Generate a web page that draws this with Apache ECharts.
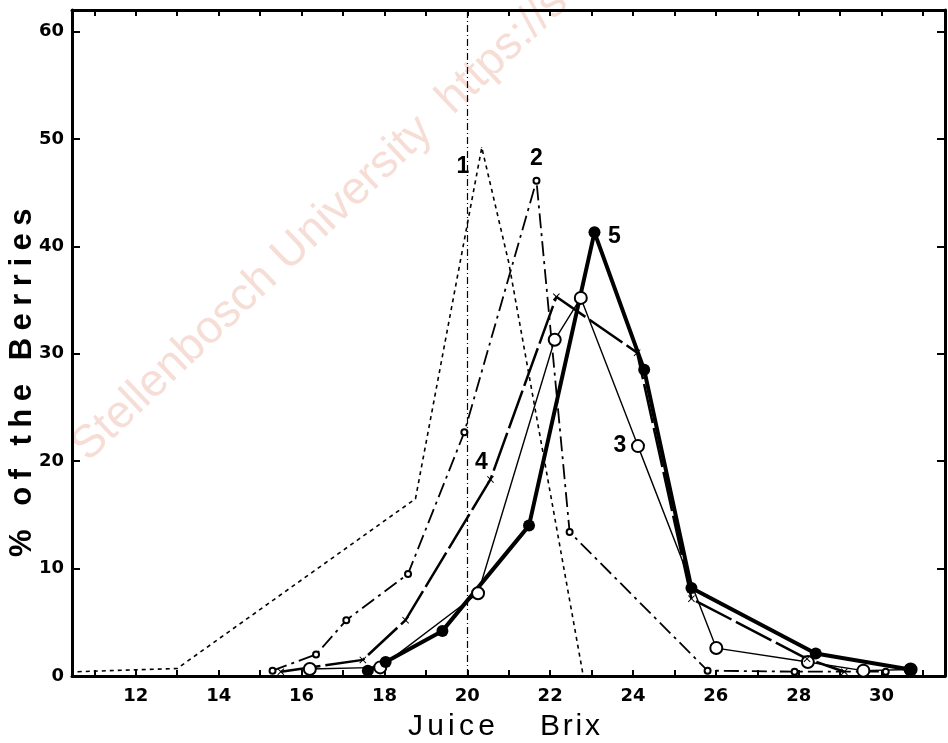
<!DOCTYPE html>
<html><head><meta charset="utf-8">
<script src="https://cdn.jsdelivr.net/npm/echarts@6/dist/echarts.min.js"></script>
<style>html,body{margin:0;padding:0;background:#fff}#c{width:948px;height:743px}</style>
</head><body><div id="c"></div>
<script>
// ---- data ----
const s1X = [10.6, 13.0, 18.75, 20.35, 21.0, 22.8];
const s1Y = [0.4, 0.7, 16.5, 49.2, 38.5, 0.0];
const s2X = [15.3, 16.35, 17.08, 18.57, 19.93, 21.67, 22.47, 25.8, 27.9, 30.1];
const s2Y = [0.5, 2.0, 5.2, 9.5, 22.7, 46.1, 13.4, 0.5, 0.4, 0.4];
const s3X = [16.2, 17.9, 20.26, 22.11, 22.74, 24.12, 26.01, 28.22, 29.56, 30.7];
const s3Y = [0.65, 0.8, 7.7, 31.3, 35.2, 21.4, 2.6, 1.3, 0.5, 0.6];
const s4X = [15.5, 17.48, 18.51, 20.56, 22.15, 24.1, 25.41, 28.2, 29.1];
const s4Y = [0.4, 1.5, 5.2, 18.3, 35.3, 30.1, 7.2, 1.6, 0.4];
const s5X = [17.6, 18.03, 19.4, 21.49, 23.07, 24.27, 25.41, 28.41, 30.69];
const s5Y = [0.5, 1.3, 4.2, 14.0, 41.3, 28.5, 8.2, 2.1, 0.6];
const curveNames = ['1', '2', '3', '4', '5'];
const refLineX = 20;
const xLabelValues = [12, 14, 16, 18, 20, 22, 24, 26, 28, 30];
const xTickValues = [11, 12, 13, 14, 15, 16, 17, 18, 19, 20, 21, 22, 23, 24, 25, 26, 27, 28, 29, 30, 31];
const yLabelValues = [0, 10, 20, 30, 40, 50, 60];
const xTitleWords = ['Juice', 'Brix'];
const yTitle = '% of the Berries';
const watermark = 'Stellenbosch University  https://scholar.sun.ac.za';

// ---- helpers ----
const LBL_FONT = '"Liberation Sans", Arial, sans-serif';
function pts(xs, ys) { return xs.map((x, i) => [x, ys[i]]); }
function labelAt(data, idx, text, offset) {
  data[idx] = { value: data[idx], label: { show: true, formatter: text, position: 'inside', offset: offset,
    fontSize: 23, fontWeight: 'bold', color: '#000', fontFamily: LBL_FONT } };
  return data;
}
const mctx = document.createElement('canvas').getContext('2d');
function spaced(str, font, spacing, x0, y0, rotation, vAlign) {
  mctx.font = font;
  const children = [];
  let cx = 0;
  for (const ch of str) {
    const w = mctx.measureText(ch).width;
    if (ch !== ' ') children.push({ type: 'text', x: cx, y: 0, style: { text: ch, font: font, fill: '#000', textAlign: 'left', textVerticalAlign: vAlign } });
    cx += w + spacing;
  }
  return { type: 'group', x: x0, y: y0, rotation: rotation || 0, children: children, silent: true };
}

const xSym = 'path://M0,1L1,0L5,4L9,0L10,1L6,5L10,9L9,10L5,6L1,10L0,9L4,5Z';

const d1 = labelAt(pts(s1X, s1Y), 3, curveNames[0], [-19, 19]);
const d2 = labelAt(pts(s2X, s2Y), 5, curveNames[1], [0, -22]);
const d3 = labelAt(pts(s3X, s3Y), 5, curveNames[2], [-18, 0]);
const d4 = labelAt(pts(s4X, s4Y), 3, curveNames[3], [-9, -17]);
const d5 = labelAt(pts(s5X, s5Y), 4, curveNames[4], [20, 4]);

const axisLine = { show: true, onZero: false, lineStyle: { color: '#000', width: 3 } };
const tickFont = { fontFamily: '"DejaVu Sans", sans-serif', fontWeight: 'bold', fontSize: 18, color: '#000' };

const chart = echarts.init(document.getElementById('c'), null, { renderer: 'canvas' });
chart.setOption({
  animation: false,
  backgroundColor: '#fff',
  grid: { left: 72, right: 3, top: 10, bottom: 67 },
  xAxis: [
    { type: 'value', position: 'bottom', min: 10.46, max: 31.53,
      axisLine: axisLine, splitLine: { show: false },
      axisTick: { show: true, inside: true, length: 6, lineStyle: { color: '#000', width: 2 }, customValues: xTickValues },
      axisLabel: Object.assign({ show: true, margin: 11, customValues: xLabelValues }, tickFont) },
    { type: 'value', position: 'top', min: 10.46, max: 31.53,
      axisLine: axisLine, splitLine: { show: false },
      axisTick: { show: true, inside: true, length: 6, lineStyle: { color: '#000', width: 2 }, customValues: xTickValues },
      axisLabel: { show: false } }
  ],
  yAxis: [
    { type: 'value', position: 'left', min: 0, max: 62, interval: 10,
      axisLine: axisLine, splitLine: { show: false },
      axisTick: { show: true, inside: true, length: 8, lineStyle: { color: '#000', width: 2 }, customValues: yLabelValues },
      axisLabel: Object.assign({ show: true, margin: 8, customValues: yLabelValues }, tickFont) },
    { type: 'value', position: 'right', min: 0, max: 62, interval: 10,
      axisLine: axisLine, splitLine: { show: false },
      axisTick: { show: true, inside: true, length: 8, lineStyle: { color: '#000', width: 2 }, customValues: yLabelValues },
      axisLabel: { show: false } }
  ],
  series: [
    { name: curveNames[0], type: 'line', data: d1, clip: false, symbol: 'circle', symbolSize: 1,
      itemStyle: { color: '#000' }, lineStyle: { color: '#000', width: 1.6, type: [4, 4] },
      markLine: { silent: true, symbol: ['none', 'none'], label: { show: false },
        lineStyle: { color: '#000', width: 1.2, type: [7, 3, 1, 3] }, data: [{ xAxis: refLineX }] } },
    { name: curveNames[1], type: 'line', data: d2, clip: false, symbol: 'emptyCircle', symbolSize: 6,
      itemStyle: { color: '#000', borderColor: '#000', borderWidth: 1.5 },
      lineStyle: { color: '#000', width: 1.8, type: [15, 5, 3, 5] } },
    { name: curveNames[2], type: 'line', data: d3, clip: false, symbol: 'emptyCircle', symbolSize: 12,
      itemStyle: { color: '#000', borderColor: '#000', borderWidth: 1.6 },
      lineStyle: { color: '#000', width: 1.4 } },
    { name: curveNames[3], type: 'line', data: d4, clip: false, symbol: xSym, symbolSize: 7,
      itemStyle: { color: '#000' }, lineStyle: { color: '#000', width: 2.5, type: [40, 5] } },
    { name: curveNames[4], type: 'line', data: d5, clip: false, symbol: 'circle', symbolSize: 12,
      itemStyle: { color: '#000' }, lineStyle: { color: '#000', width: 4 } }
  ],
  graphic: [
    { type: 'text', x: 95, y: 470, rotation: 0.76, silent: true, z: -10,
      style: { text: watermark, font: '46px "Liberation Sans", Arial, sans-serif', fill: 'rgba(226,150,125,0.32)', textAlign: 'left', textVerticalAlign: 'bottom' } },
    spaced(yTitle, 'bold 31px "Liberation Sans", Arial, sans-serif', 7.5, 22, 557, Math.PI / 2, 'middle'),
    spaced(xTitleWords[0], '30px "Liberation Sans", Arial, sans-serif', 4.2, 408, 742, 0, 'bottom'),
    spaced(xTitleWords[1], '30px "Liberation Sans", Arial, sans-serif', 2.8, 540, 742, 0, 'bottom')
  ]
});
</script>
</body></html>
